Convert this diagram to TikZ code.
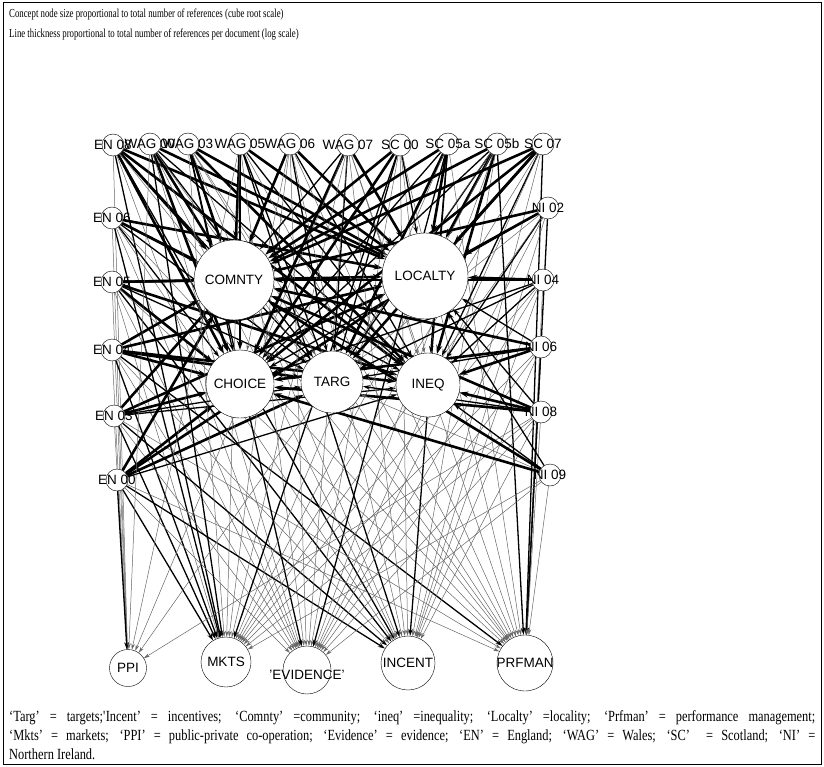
\documentclass[tikz,border=0pt]{standalone}
\usepackage{fontspec}
\setmainfont{Liberation Serif}
\setsansfont{Liberation Sans}
\newfontfamily\notefont[FakeStretch=0.8]{Liberation Serif}
\newfontfamily\keyfont[FakeStretch=0.72]{Liberation Serif}
\usepackage{tikz}
\usetikzlibrary{arrows.meta,backgrounds}

\begin{document}
\begin{tikzpicture}[x=1pt, y=-1pt,
        doc/.style={shape=circle, draw=black, fill=white, inner sep=0pt, minimum size=22pt},
        concept/.style={shape=circle, draw=black, fill=white, inner sep=0pt},
        every label/.style={font=\sffamily\fontsize{13.5}{14}\selectfont, inner sep=0pt},
        heavy/.style={line width=2.6pt, -{Stealth[length=9pt,width=6pt]}},
        mid/.style={line width=1.3pt, -{Stealth[length=7pt,width=4.5pt]}},
        light/.style={line width=0.5pt, black!60, -{Stealth[length=6pt,width=3.5pt]}}]
    \useasboundingbox (0,0) rectangle (824,767);
    \draw[line width=1pt] (3,3) rectangle (821,764);

    % key lines
    \node[anchor=base west, inner sep=0pt, font=\keyfont\fontsize{12.2}{13}\selectfont] (head1) at (9,18)
        {Concept node size proportional to total number of references (cube root scale)};
    \node[anchor=base west, inner sep=0pt, font=\keyfont\fontsize{12.2}{13}\selectfont] (head2) at (9,38)
        {Line thickness proportional to total number of references per document (log scale)};

    % documents
    \node[doc, label=center:EN 08] (en08) at (113,145) {};
    \node[doc, label=center:WAG 00] (wag00) at (150,144) {};
    \node[doc, label=center:WAG 03] (wag03) at (188,144) {};
    \node[doc, label=center:WAG 05] (wag05) at (240,144) {};
    \node[doc, label=center:WAG 06] (wag06) at (290,144) {};
    \node[doc, label=center:WAG 07] (wag07) at (348,145) {};
    \node[doc, label=center:SC 00] (sc00) at (400,145) {};
    \node[doc, label=center:SC 05a] (sc05a) at (448,144) {};
    \node[doc, label=center:SC 05b] (sc05b) at (497,144) {};
    \node[doc, label=center:SC 07] (sc07) at (543,144) {};

    \node[doc, label=center:EN 06] (en06) at (112,218) {};
    \node[doc, label=center:EN 05] (en05) at (112,282) {};
    \node[doc, label=center:EN 04] (en04) at (112,350) {};
    \node[doc, label=center:EN 03] (en03) at (114,416) {};
    \node[doc, label=center:EN 00] (en00) at (117,480) {};

    \node[doc, label=center:NI 02] (ni02) at (548,208) {};
    \node[doc, label=center:NI 04] (ni04) at (543,280) {};
    \node[doc, label=center:NI 06] (ni06) at (541,347) {};
    \node[doc, label=center:NI 08] (ni08) at (541,412) {};
    \node[doc, label=center:NI 09] (ni09) at (550,475) {};

    % concepts
    \node[concept, minimum size=80pt, label=center:COMNTY] (comnty) at (234,280) {};
    \node[concept, minimum size=86pt, label=center:LOCALTY] (localty) at (425,276) {};
    \node[concept, minimum size=68pt, label=center:CHOICE] (choice) at (240,384) {};
    \node[concept, minimum size=62pt, label=center:TARG] (targ) at (332,382) {};
    \node[concept, minimum size=64pt, label=center:INEQ] (ineq) at (428,385) {};

    \node[concept, minimum size=37pt, label=center:PPI] (ppi) at (128,668) {};
    \node[concept, minimum size=50pt, label=center:MKTS] (mkts) at (226,662) {};
    \node[concept, minimum size=48pt, label={[yshift=-5pt]center:'EVIDENCE'}] (evid) at (307,670) {};
    \node[concept, minimum size=54pt, label=center:INCENT] (incent) at (408,663) {};
    \node[concept, minimum size=56pt, label=center:PRFMAN] (prfman) at (525,663) {};

    \begin{scope}[on background layer]
    % England
    \path[heavy] (en08) edge (comnty) edge (localty) edge (choice) edge (ineq);
    \path[mid] (en08) edge (targ) edge (mkts) edge (incent);
    \path[light] (en08) edge (ppi) edge (evid) edge (prfman);

    \path[heavy] (en06) edge (comnty) edge (localty);
    \path[mid] (en06) edge (choice) edge (targ) edge (ineq) edge (mkts);
    \path[light] (en06) edge (ppi) edge (evid) edge (incent) edge (prfman);

    \path[heavy] (en05) edge (comnty) edge (choice) edge (localty) edge (ineq);
    \path[mid] (en05) edge (targ) edge (incent);
    \path[light] (en05) edge (ppi) edge (mkts) edge (evid) edge (prfman);

    \path[heavy] (en04) edge (comnty) edge (localty) edge (choice) edge (targ) edge (ineq);
    \path[mid] (en04) edge (mkts) edge (prfman);
    \path[light] (en04) edge (ppi) edge (evid) edge (incent);

    \path[heavy] (en03) edge (choice) edge (localty) edge (comnty);
    \path[mid] (en03) edge (targ) edge (ineq) edge (mkts) edge (incent);
    \path[light] (en03) edge (ppi) edge (evid) edge (prfman);

    \path[heavy] (en00) edge (comnty) edge (choice) edge (localty) edge (targ);
    \path[mid] (en00) edge (ineq) edge (ppi) edge (mkts) edge (incent);
    \path[light] (en00) edge (evid) edge (prfman);

    % Wales
    \path[heavy] (wag00) edge (comnty) edge (localty) edge (choice);
    \path[mid] (wag00) edge (ineq) edge (targ) edge (mkts);
    \path[light] (wag00) edge (ppi) edge (evid) edge (incent) edge (prfman);

    \path[heavy] (wag03) edge (comnty) edge (ineq) edge (localty);
    \path[mid] (wag03) edge (choice) edge (evid);
    \path[light] (wag03) edge (targ) edge (mkts) edge (incent) edge (prfman);

    \path[heavy] (wag05) edge (localty) edge (comnty) edge (choice);
    \path[mid] (wag05) edge (targ) edge (ineq) edge (incent);
    \path[light] (wag05) edge (ppi) edge (mkts) edge (evid) edge (prfman);

    \path[heavy] (wag06) edge (comnty) edge (localty);
    \path[mid] (wag06) edge (ineq) edge (targ);
    \path[light] (wag06) edge (choice) edge (mkts) edge (evid) edge (incent) edge (prfman);

    \path[heavy] (wag07) edge (choice) edge (localty);
    \path[mid] (wag07) edge (comnty) edge (targ);
    \path[light] (wag07) edge (ineq) edge (ppi) edge (mkts) edge (evid) edge (incent) edge (prfman);

    % Scotland
    \path[heavy] (sc00) edge (comnty) edge (choice);
    \path[mid] (sc00) edge (localty) edge (targ) edge (mkts);
    \path[light] (sc00) edge (ineq) edge (evid) edge (incent) edge (prfman);

    \path[heavy] (sc05a) edge (comnty) edge (localty) edge (targ);
    \path[mid] (sc05a) edge (choice) edge (ineq) edge (incent) edge (evid);
    \path[light] (sc05a) edge (mkts) edge (prfman);

    \path[heavy] (sc05b) edge (comnty) edge (localty) edge (ineq);
    \path[mid] (sc05b) edge (choice) edge (targ) edge (prfman);
    \path[light] (sc05b) edge (ppi) edge (mkts) edge (evid) edge (incent);

    \path[heavy] (sc07) edge (comnty) edge (localty) edge (choice) edge (targ);
    \path[mid] (sc07) edge (ineq) edge (prfman);
    \path[light] (sc07) edge (mkts) edge (evid) edge (incent);

    % Northern Ireland
    \path[heavy] (ni02) edge (comnty) edge (localty);
    \path[mid] (ni02) edge (choice) edge (ineq) edge (prfman);
    \path[light] (ni02) edge (targ) edge (mkts) edge (evid) edge (incent);

    \path[heavy] (ni04) edge (localty) edge (comnty);
    \path[mid] (ni04) edge (choice) edge (targ) edge (ineq);
    \path[light] (ni04) edge (mkts) edge (evid) edge (incent) edge (prfman);

    \path[heavy] (ni06) edge (comnty) edge (choice) edge (ineq);
    \path[mid] (ni06) edge (localty) edge (targ) edge (prfman);
    \path[light] (ni06) edge (mkts) edge (evid) edge (incent);

    \path[heavy] (ni08) edge (choice) edge (comnty) edge (ineq);
    \path[mid] (ni08) edge (localty) edge (targ);
    \path[light] (ni08) edge (ppi) edge (mkts) edge (evid) edge (incent) edge (prfman);

    \path[heavy] (ni09) edge (comnty) edge (choice);
    \path[mid] (ni09) edge (ineq) edge (localty);
    \path[light] (ni09) edge (targ) edge (mkts) edge (evid) edge (prfman);
    \end{scope}

    % abbreviations
    \node[anchor=north west, inner sep=0pt, text width=806pt, align=justify,
          font=\notefont\fontsize{15.5}{19}\selectfont] (abbrev) at (9,710)
        {‘Targ’ = targets;\textquotesingle Incent’ = incentives; ‘Comnty’ =community; ‘ineq’ =inequality; ‘Localty’ =locality; ‘Prfman’ = performance management;\linebreak
         ‘Mkts’ = markets; ‘PPI’ = public-private co-operation; ‘Evidence’ = evidence; ‘EN’ = England; ‘WAG’ = Wales; ‘SC’ \ = Scotland; ‘NI’ =\linebreak
         Northern Ireland.};
\end{tikzpicture}
\end{document}
